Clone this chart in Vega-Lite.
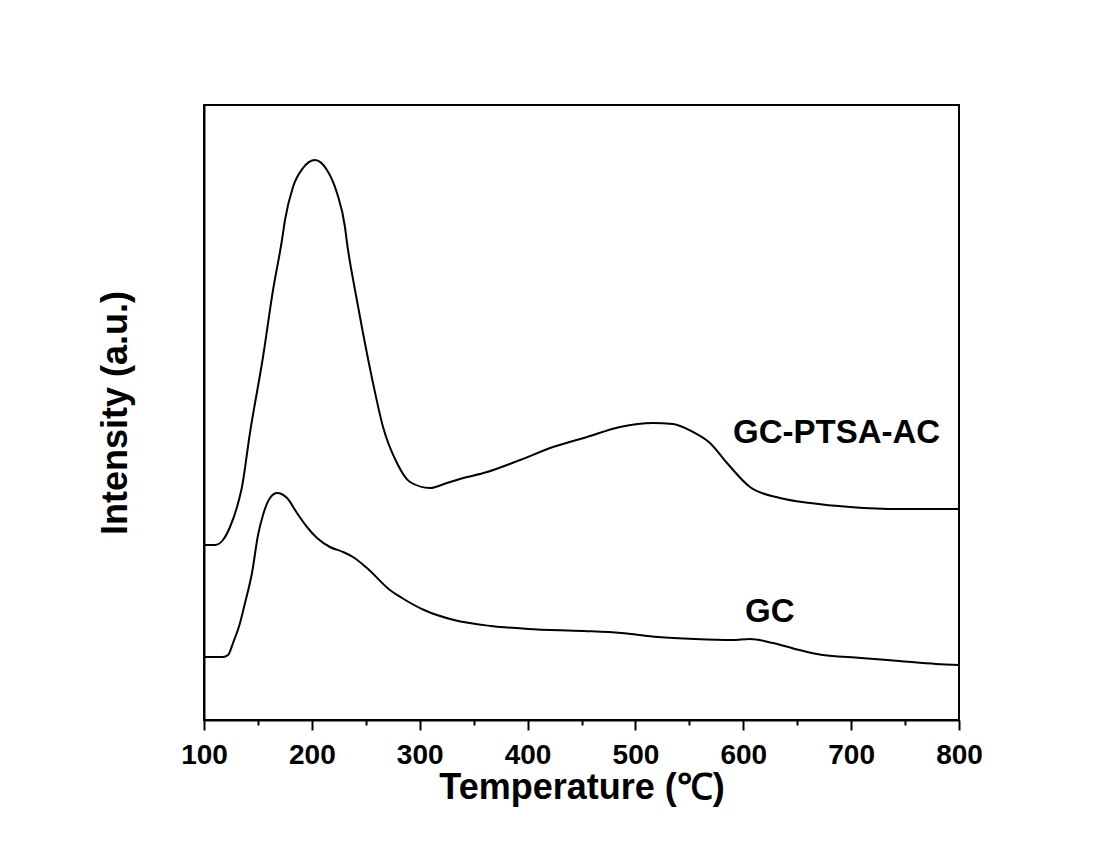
{
  "$schema": "https://vega.github.io/schema/vega-lite/v6.json",
  "width": 755,
  "height": 615,
  "autosize": {"type": "none"},
  "padding": {"left": 204, "top": 105, "right": 141, "bottom": 135},
  "background": "white",
  "config": {
    "view": {"stroke": "black", "strokeWidth": 2},
    "font": "Liberation Sans"
  },
  "datasets": {
    "curves": [
      {"T": 100, "I": 175, "s": "GC-PTSA-AC"},
      {"T": 110.2, "I": 175, "s": "GC-PTSA-AC"},
      {"T": 117.6, "I": 180, "s": "GC-PTSA-AC"},
      {"T": 124.1, "I": 193, "s": "GC-PTSA-AC"},
      {"T": 130.6, "I": 213, "s": "GC-PTSA-AC"},
      {"T": 135.2, "I": 233, "s": "GC-PTSA-AC"},
      {"T": 142.6, "I": 287, "s": "GC-PTSA-AC"},
      {"T": 154.7, "I": 363, "s": "GC-PTSA-AC"},
      {"T": 164.0, "I": 430, "s": "GC-PTSA-AC"},
      {"T": 172.3, "I": 480, "s": "GC-PTSA-AC"},
      {"T": 175.1, "I": 500, "s": "GC-PTSA-AC"},
      {"T": 182.5, "I": 533, "s": "GC-PTSA-AC"},
      {"T": 191.8, "I": 552, "s": "GC-PTSA-AC"},
      {"T": 202.9, "I": 560, "s": "GC-PTSA-AC"},
      {"T": 214.0, "I": 550, "s": "GC-PTSA-AC"},
      {"T": 223.3, "I": 527, "s": "GC-PTSA-AC"},
      {"T": 230.7, "I": 493, "s": "GC-PTSA-AC"},
      {"T": 232.6, "I": 477, "s": "GC-PTSA-AC"},
      {"T": 240.0, "I": 430, "s": "GC-PTSA-AC"},
      {"T": 247.4, "I": 387, "s": "GC-PTSA-AC"},
      {"T": 256.7, "I": 337, "s": "GC-PTSA-AC"},
      {"T": 266.0, "I": 293, "s": "GC-PTSA-AC"},
      {"T": 278.9, "I": 257, "s": "GC-PTSA-AC"},
      {"T": 291.0, "I": 238, "s": "GC-PTSA-AC"},
      {"T": 309.5, "I": 232, "s": "GC-PTSA-AC"},
      {"T": 325.3, "I": 237, "s": "GC-PTSA-AC"},
      {"T": 337.3, "I": 241, "s": "GC-PTSA-AC"},
      {"T": 362.4, "I": 248, "s": "GC-PTSA-AC"},
      {"T": 393.0, "I": 260, "s": "GC-PTSA-AC"},
      {"T": 423.6, "I": 273, "s": "GC-PTSA-AC"},
      {"T": 455.1, "I": 283, "s": "GC-PTSA-AC"},
      {"T": 485.7, "I": 293, "s": "GC-PTSA-AC"},
      {"T": 516.3, "I": 297, "s": "GC-PTSA-AC"},
      {"T": 534.8, "I": 296, "s": "GC-PTSA-AC"},
      {"T": 553.4, "I": 288, "s": "GC-PTSA-AC"},
      {"T": 569.1, "I": 277, "s": "GC-PTSA-AC"},
      {"T": 584.9, "I": 257, "s": "GC-PTSA-AC"},
      {"T": 606.2, "I": 233, "s": "GC-PTSA-AC"},
      {"T": 634.0, "I": 222, "s": "GC-PTSA-AC"},
      {"T": 661.9, "I": 217, "s": "GC-PTSA-AC"},
      {"T": 698.9, "I": 213, "s": "GC-PTSA-AC"},
      {"T": 745.3, "I": 211, "s": "GC-PTSA-AC"},
      {"T": 800, "I": 211, "s": "GC-PTSA-AC"},
      {"T": 100, "I": 63, "s": "GC"},
      {"T": 117.6, "I": 63, "s": "GC"},
      {"T": 122.3, "I": 65, "s": "GC"},
      {"T": 126.9, "I": 77, "s": "GC"},
      {"T": 133.4, "I": 97, "s": "GC"},
      {"T": 138.0, "I": 117, "s": "GC"},
      {"T": 144.5, "I": 147, "s": "GC"},
      {"T": 150.1, "I": 185, "s": "GC"},
      {"T": 154.7, "I": 205, "s": "GC"},
      {"T": 161.2, "I": 222, "s": "GC"},
      {"T": 167.7, "I": 227, "s": "GC"},
      {"T": 177.0, "I": 222, "s": "GC"},
      {"T": 186.2, "I": 207, "s": "GC"},
      {"T": 195.5, "I": 193, "s": "GC"},
      {"T": 204.8, "I": 182, "s": "GC"},
      {"T": 216.8, "I": 173, "s": "GC"},
      {"T": 228.9, "I": 168, "s": "GC"},
      {"T": 238.1, "I": 163, "s": "GC"},
      {"T": 251.1, "I": 152, "s": "GC"},
      {"T": 272.4, "I": 130, "s": "GC"},
      {"T": 283.6, "I": 122, "s": "GC"},
      {"T": 304.0, "I": 110, "s": "GC"},
      {"T": 331.8, "I": 100, "s": "GC"},
      {"T": 366.1, "I": 94, "s": "GC"},
      {"T": 400.4, "I": 91, "s": "GC"},
      {"T": 452.3, "I": 89, "s": "GC"},
      {"T": 486.6, "I": 87, "s": "GC"},
      {"T": 520.9, "I": 83, "s": "GC"},
      {"T": 555.2, "I": 81, "s": "GC"},
      {"T": 589.5, "I": 80, "s": "GC"},
      {"T": 606.2, "I": 81, "s": "GC"},
      {"T": 627.5, "I": 77, "s": "GC"},
      {"T": 648.0, "I": 71, "s": "GC"},
      {"T": 668.3, "I": 66, "s": "GC"},
      {"T": 709.1, "I": 62, "s": "GC"},
      {"T": 744.4, "I": 59, "s": "GC"},
      {"T": 778.7, "I": 56, "s": "GC"},
      {"T": 800, "I": 55, "s": "GC"}
    ],
    "labels": [
      {"T": 590.5, "I": 277, "text": "GC-PTSA-AC"},
      {"T": 601.6, "I": 98, "text": "GC"}
    ]
  },
  "layer": [
    {
      "data": {"name": "curves"},
      "mark": {"type": "line", "interpolate": "monotone", "color": "black", "strokeWidth": 2},
      "encoding": {
        "x": {
          "field": "T", "type": "quantitative",
          "scale": {"domain": [100, 800], "nice": false, "zero": false},
          "axis": {
            "title": "Temperature (℃)",
            "values": [100, 150, 200, 250, 300, 350, 400, 450, 500, 550, 600, 650, 700, 750, 800],
            "labelExpr": "datum.value % 100 == 0 ? datum.label : ''",
            "grid": false,
            "domainColor": "black", "domainWidth": 2,
            "tickColor": "black", "tickWidth": 2,
            "tickSize": {"condition": {"test": "datum.value % 100 == 0", "value": 10}, "value": 5},
            "labelFont": "Liberation Sans", "labelFontSize": 28, "labelFontWeight": "bold", "labelColor": "black",
            "labelPadding": 11, "labelFlush": false, "labelOverlap": false,
            "titleFont": "Liberation Sans", "titleFontSize": 36, "titleFontWeight": "bold", "titleColor": "black",
            "titlePadding": 1
          }
        },
        "y": {
          "field": "I", "type": "quantitative",
          "scale": {"domain": [0, 615], "nice": false, "zero": false},
          "axis": {
            "title": "Intensity (a.u.)",
            "labels": false, "ticks": false, "grid": false,
            "domainColor": "black", "domainWidth": 2,
            "titleFont": "Liberation Sans", "titleFontSize": 36, "titleFontWeight": "bold", "titleColor": "black",
            "titlePadding": 70
          }
        },
        "detail": {"field": "s", "type": "nominal"}
      }
    },
    {
      "data": {"name": "labels"},
      "mark": {"type": "text", "align": "left", "baseline": "alphabetic", "font": "Liberation Sans", "fontSize": 33, "fontWeight": "bold", "color": "black"},
      "encoding": {
        "x": {"field": "T", "type": "quantitative"},
        "y": {"field": "I", "type": "quantitative"},
        "text": {"field": "text", "type": "nominal"}
      }
    }
  ]
}
